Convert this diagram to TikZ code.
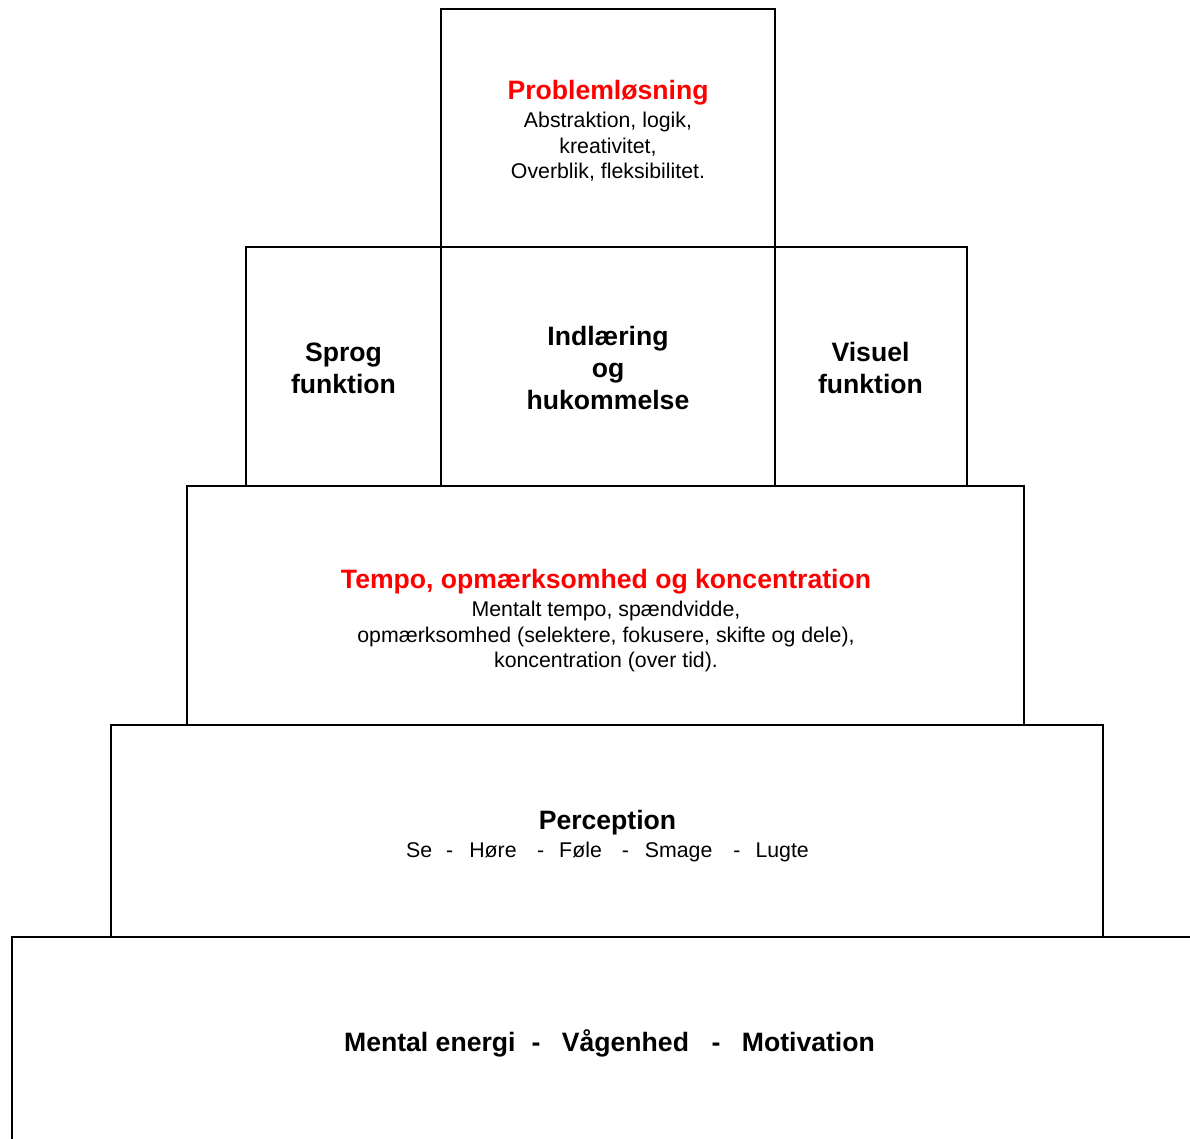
\documentclass[tikz,border=0pt]{standalone}
\usepackage{fontspec}
\setmainfont{Liberation Sans}
\definecolor{titlered}{RGB}{255,0,0}
\newcommand{\nfont}{\fontsize{21.3}{25.5}\selectfont}
\newcommand{\bfontA}{\fontsize{26.6}{25.5}\selectfont\bfseries}
\newcommand{\bfontB}{\fontsize{26.6}{32}\selectfont\bfseries}
\begin{document}
\begin{tikzpicture}[x=1pt,y=-1pt,
  box/.style={draw=black,line width=2pt,inner sep=0pt,outer sep=0pt,anchor=north west},
  txt/.style={inner sep=0pt,align=center}]
\useasboundingbox (0,0) rectangle (1190,1138);
\clip (0,0) rectangle (1190,1138);
% boxes
\node[box,minimum width=1190pt,minimum height=230pt] (base) at (12,937) {};
\node[box,minimum width=992pt,minimum height=212pt] (perc) at (111,725) {};
\node[box,minimum width=837pt,minimum height=239pt] (tempo) at (187,486) {};
\node[box,minimum width=195pt,minimum height=239pt] (sprog) at (246,247) {};
\node[box,minimum width=334pt,minimum height=239pt] (indl) at (441,247) {};
\node[box,minimum width=192pt,minimum height=239pt] (vis) at (775,247) {};
\node[box,minimum width=334pt,minimum height=238pt] (prob) at (441,9) {};
% texts
\node[txt,font=\nfont] (tprob) at (608,131)
  {{\bfontA\color{titlered}Problemløsning}\\[2.5pt]Abstraktion, logik,\\kreativitet,\\Overblik, fleksibilitet.};
\node[txt,font=\bfontB] (tsprog) at (343.5,368) {Sprog\\funktion};
\node[txt,font=\bfontB] (tindl) at (608,368) {Indlæring\\og\\hukommelse};
\node[txt,font=\bfontB] (tvis) at (870.5,368) {Visuel\\funktion};
\node[txt,font=\nfont] (ttempo) at (606,621)
  {{\bfontA\color{titlered}Tempo, opmærksomhed og koncentration}\\[2.5pt]Mentalt tempo, spændvidde,\\opmærksomhed (selektere, fokusere, skifte og dele),\\koncentration (over tid).};
\node[txt,font=\nfont] (tperc) at (607.5,836)
  {{\bfontA Perception}\\[2.5pt]Se\hspace{14pt}-\hspace{16pt}Høre\hspace{20.5pt}-\hspace{15pt}Føle\hspace{20pt}-\hspace{16pt}Smage\hspace{21pt}-\hspace{15pt}Lugte};
\node[txt,font=\bfontA,anchor=base] (tbase) at (609.5,1051.5)
  {Mental energi\hspace{16pt}-\hspace{21.5pt}Vågenhed\hspace{22.5pt}-\hspace{21.5pt}Motivation};
\end{tikzpicture}
\end{document}
